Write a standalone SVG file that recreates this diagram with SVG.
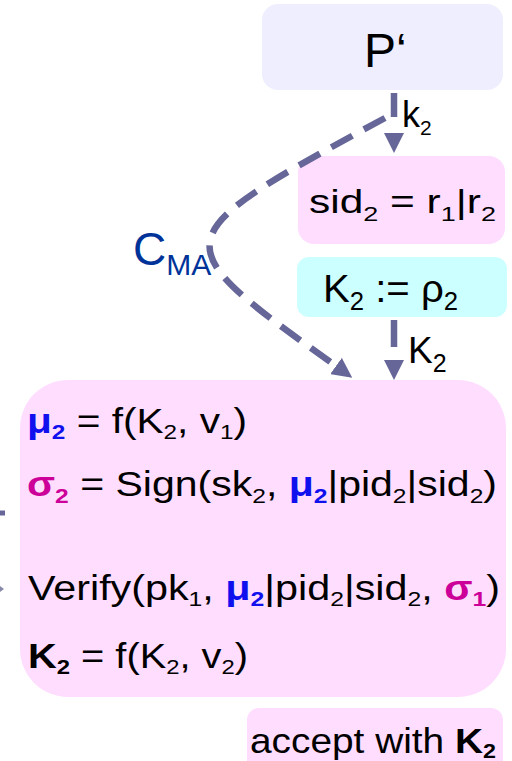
<svg xmlns="http://www.w3.org/2000/svg" width="512" height="761" viewBox="0 0 512 761">
<defs>
<style>
.t{font-family:"Liberation Sans",Arial,sans-serif;font-size:35px;fill:#000}
.s{font-size:21px}
.b{font-weight:bold}
.mu{fill:#1010ee;font-weight:bold}
.sg{fill:#cc0099;font-weight:bold}
.conn{fill:none;stroke:#666699;stroke-width:6.5}
</style>
<marker id="ah" markerUnits="userSpaceOnUse" markerWidth="20" markerHeight="20" refX="0" refY="10" orient="auto" viewBox="0 0 20 20">
<path d="M0,0 L20,10 L0,20 z" fill="#666699"/>
</marker>
</defs>
<rect width="512" height="761" fill="#fff"/>

<g id="node-p">
<rect x="262" y="4" width="241" height="86" rx="16" fill="#eeeeff"/>
<text class="t" x="364" y="67" style="font-size:48px">P‘</text>
</g>

<g id="node-sid">
<rect x="298" y="156" width="207" height="88" rx="16" fill="#ffddff"/>
<text class="t" x="309" y="213" style="font-size:33px" textLength="187" lengthAdjust="spacingAndGlyphs">sid<tspan class="s" y="221">2</tspan><tspan y="213"> = r</tspan><tspan class="s" y="221">1</tspan><tspan y="213">|r</tspan><tspan class="s" y="221">2</tspan></text>
</g>

<g id="node-k">
<rect x="297" y="257" width="210" height="60" rx="12" fill="#ccffff"/>
<text class="t" x="323" y="302" style="font-size:39px" textLength="135" lengthAdjust="spacingAndGlyphs">K<tspan style="font-size:25px" y="310">2</tspan><tspan y="302"> := ρ</tspan><tspan style="font-size:25px" y="310">2</tspan></text>
</g>

<g id="node-main">
<rect x="20" y="380" width="486" height="317" rx="48" fill="#ffddff"/>
<text class="t" x="27" y="433" textLength="220" lengthAdjust="spacingAndGlyphs"><tspan class="mu">μ</tspan><tspan class="mu s" y="439">2</tspan><tspan y="433"> = f(K</tspan><tspan class="s" y="439">2</tspan><tspan y="433">, v</tspan><tspan class="s" y="439">1</tspan><tspan y="433">)</tspan></text>
<text class="t" x="27" y="496" textLength="470" lengthAdjust="spacingAndGlyphs"><tspan class="sg">σ</tspan><tspan class="sg s" y="503">2</tspan><tspan y="496"> = Sign(sk</tspan><tspan class="s" y="503">2</tspan><tspan y="496">, </tspan><tspan class="mu" y="496">μ</tspan><tspan class="mu s" y="503">2</tspan><tspan y="496">|pid</tspan><tspan class="s" y="503">2</tspan><tspan y="496">|sid</tspan><tspan class="s" y="503">2</tspan><tspan y="496">)</tspan></text>
<text class="t" x="28" y="600" textLength="472" lengthAdjust="spacingAndGlyphs">Verify(pk<tspan class="s" y="606">1</tspan><tspan y="600">, </tspan><tspan class="mu" y="600">μ</tspan><tspan class="mu s" y="606">2</tspan><tspan y="600">|pid</tspan><tspan class="s" y="606">2</tspan><tspan y="600">|sid</tspan><tspan class="s" y="606">2</tspan><tspan y="600">, </tspan><tspan class="sg" y="600">σ</tspan><tspan class="sg s" y="606">1</tspan><tspan y="600">)</tspan></text>
<text class="t" x="28" y="668" textLength="220" lengthAdjust="spacingAndGlyphs"><tspan class="b">K</tspan><tspan class="b s" y="674">2</tspan><tspan y="668"> = f(K</tspan><tspan class="s" y="674">2</tspan><tspan y="668">, v</tspan><tspan class="s" y="674">2</tspan><tspan y="668">)</tspan></text>
</g>

<g id="node-accept">
<rect x="247" y="708" width="256" height="64" rx="12" fill="#ffddff"/>
<text class="t" x="250" y="753" textLength="246" lengthAdjust="spacingAndGlyphs">accept with <tspan class="b">K</tspan><tspan class="b s" y="758">2</tspan></text>
</g>

<g id="connectors">
<path class="conn" d="M394,93 V133" stroke-dasharray="24 40" marker-end="url(#ah)"/>
<path class="conn" d="M394,320 V360" stroke-dasharray="27 40" marker-end="url(#ah)"/>
<path class="conn" d="M385,118 C160,240 160,240 336,366" stroke-dasharray="24 13" marker-end="url(#ah)"/>
<line x1="0" y1="513" x2="5" y2="513" stroke="#666699" stroke-width="5"/>
<path d="M0,586 L4,589 L0,592 z" fill="#8888aa"/>
<text class="t" x="402" y="127" style="font-size:36px">k<tspan class="s" y="135">2</tspan></text>
<text class="t" x="408" y="363" style="font-size:37px">K<tspan style="font-size:25px" y="372">2</tspan></text>
<text class="t" x="133" y="265" style="font-size:46px;fill:#003399">C<tspan style="font-size:30px" y="275">MA</tspan></text>
</g>
</svg>
